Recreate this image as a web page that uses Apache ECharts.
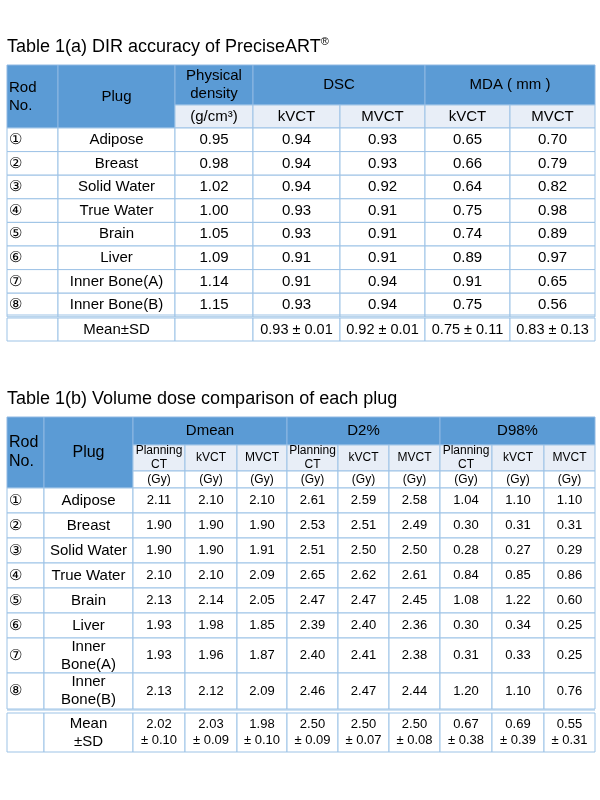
<!DOCTYPE html>
<html><head><meta charset="utf-8">
<script src="https://cdn.jsdelivr.net/npm/echarts@6/dist/echarts.min.js"></script>
<style>html,body{margin:0;padding:0;background:#fff}#c{width:600px;height:800px}</style>
</head><body><div id="c"></div>
<script>
const rods = ['①','②','③','④','⑤','⑥','⑦','⑧'];
const plugsA = ['Adipose','Breast','Solid Water','True Water','Brain','Liver','Inner Bone(A)','Inner Bone(B)'];
const density = ['0.95','0.98','1.02','1.00','1.05','1.09','1.14','1.15'];
const dscK = ['0.94','0.94','0.94','0.93','0.93','0.91','0.91','0.93'];
const dscM = ['0.93','0.93','0.92','0.91','0.91','0.91','0.94','0.94'];
const mdaK = ['0.65','0.66','0.64','0.75','0.74','0.89','0.91','0.75'];
const mdaM = ['0.70','0.79','0.82','0.98','0.89','0.97','0.65','0.56'];
const meanA = ['0.93 ± 0.01','0.92 ± 0.01','0.75 ± 0.11','0.83 ± 0.13'];

const plugsB = ['Adipose','Breast','Solid Water','True Water','Brain','Liver','Inner\nBone(A)','Inner\nBone(B)'];
const dmeanP = ['2.11','1.90','1.90','2.10','2.13','1.93','1.93','2.13'];
const dmeanK = ['2.10','1.90','1.90','2.10','2.14','1.98','1.96','2.12'];
const dmeanM = ['2.10','1.90','1.91','2.09','2.05','1.85','1.87','2.09'];
const d2P = ['2.61','2.53','2.51','2.65','2.47','2.39','2.40','2.46'];
const d2K = ['2.59','2.51','2.50','2.62','2.47','2.40','2.41','2.47'];
const d2M = ['2.58','2.49','2.50','2.61','2.45','2.36','2.38','2.44'];
const d98P = ['1.04','0.30','0.28','0.84','1.08','0.30','0.31','1.20'];
const d98K = ['1.10','0.31','0.27','0.85','1.22','0.34','0.33','1.10'];
const d98M = ['1.10','0.31','0.29','0.86','0.60','0.25','0.25','0.76'];
const meanB = ['2.02\n± 0.10','2.03\n± 0.09','1.98\n± 0.10','2.50\n± 0.09','2.50\n± 0.07','2.50\n± 0.08','0.67\n± 0.38','0.69\n± 0.39','0.55\n± 0.31'];

const DARK='#5b9bd5', LIGHT='#e8eef7', LINE='#9dc3e6', FONT='Liberation Sans, Arial, sans-serif';
const g=[];
function cell(x0,x1,y0,y1,fill,text,size,color,align){
  g.push({type:'rect',shape:{x:x0,y:y0,width:x1-x0,height:y1-y0},style:{fill:fill,stroke:fill===DARK?'#8fb8e3':LINE,lineWidth:1}});
  if(text!==undefined&&text!==''){
    const left=align==='left';
    g.push({type:'text',x:left?x0+2:(x0+x1)/2,y:(y0+y1)/2,style:{text:text,fontSize:size,fontFamily:FONT,fill:color||'#000',align:left?'left':'center',verticalAlign:'middle',lineHeight:Math.round(size*1.2)}});
  }
}
function hline(x0,x1,y){g.push({type:'line',shape:{x1:x0,y1:y,x2:x1,y2:y},style:{stroke:LINE,lineWidth:1}});}

// Table 1(a)
g.push({type:'text',x:7,y:47,style:{text:'Table 1(a) DIR accuracy of PreciseART{s|®}',fontSize:18,fontFamily:FONT,fill:'#000',verticalAlign:'middle',rich:{s:{fontSize:11,verticalAlign:'top',padding:[0,0,10,0]}}}});
const cA=[7,58,175,253,340,425,510,595];
cell(cA[0],cA[1],65,128,DARK,'Rod\nNo.',15,'#000','left');
cell(cA[1],cA[2],65,128,DARK,'Plug',15,'#000');
cell(cA[2],cA[3],65,105,DARK,'Physical\ndensity',15,'#000');
cell(cA[3],cA[5],65,105,DARK,'DSC',15,'#000');
cell(cA[5],cA[7],65,105,DARK,'MDA ( mm )',15,'#000');
const subA=['(g/cm³)','kVCT','MVCT','kVCT','MVCT'];
subA.forEach((t,i)=>cell(cA[i+2],cA[i+3],105,128,LIGHT,t,15));
const colsA=[density,dscK,dscM,mdaK,mdaM];
for(let r=0;r<8;r++){
  const y0=128+r*23.6,y1=y0+23.6;
  cell(cA[0],cA[1],y0,y1,'#fff',rods[r],15,'#000','left');
  cell(cA[1],cA[2],y0,y1,'#fff',plugsA[r],15);
  colsA.forEach((c,i)=>cell(cA[i+2],cA[i+3],y0,y1,'#fff',c[r],15));
}
const mA0=318,mA1=341;
cell(cA[0],cA[1],mA0,mA1,'#fff','');
cell(cA[1],cA[2],mA0,mA1,'#fff','Mean±SD',15);
cell(cA[2],cA[3],mA0,mA1,'#fff','');
meanA.forEach((t,i)=>cell(cA[i+3],cA[i+4],mA0,mA1,'#fff',t,14.5));
hline(cA[0],cA[7],315);

// Table 1(b)
g.push({type:'text',x:7,y:399,style:{text:'Table 1(b) Volume dose comparison of each plug',fontSize:18,fontFamily:FONT,fill:'#000',verticalAlign:'middle'}});
const cB=[7,44,133,185,237,287,338,389,440,492,544,595];
cell(cB[0],cB[1],417,488,DARK,'Rod\nNo.',16,'#000','left');
cell(cB[1],cB[2],417,488,DARK,'Plug',16,'#000');
['Dmean','D2%','D98%'].forEach((t,i)=>cell(cB[2+3*i],cB[5+3*i],417,445,DARK,t,15));
const subB=['Planning\nCT','kVCT','MVCT'];
for(let i=0;i<9;i++){
  cell(cB[i+2],cB[i+3],445,471,LIGHT,subB[i%3],12);
  cell(cB[i+2],cB[i+3],471,488,'#fff','(Gy)',12);
}
const colsB=[dmeanP,dmeanK,dmeanM,d2P,d2K,d2M,d98P,d98K,d98M];
const rowY=[488,513,538,563,588,613,638,673,709];
for(let r=0;r<8;r++){
  const y0=rowY[r],y1=rowY[r+1];
  cell(cB[0],cB[1],y0,y1,'#fff',rods[r],15,'#000','left');
  cell(cB[1],cB[2],y0,y1,'#fff',plugsB[r],15);
  colsB.forEach((c,i)=>cell(cB[i+2],cB[i+3],y0,y1,'#fff',c[r],13));
}
const mB0=713,mB1=752;
cell(cB[0],cB[1],mB0,mB1,'#fff','');
cell(cB[1],cB[2],mB0,mB1,'#fff','Mean\n±SD',15);
meanB.forEach((t,i)=>cell(cB[i+2],cB[i+3],mB0,mB1,'#fff',t,13));
hline(cB[0],cB[11],710);

const chart=echarts.init(document.getElementById('c'),null,{renderer:'canvas'});
chart.setOption({animation:false,graphic:{elements:g}});
</script></body></html>
